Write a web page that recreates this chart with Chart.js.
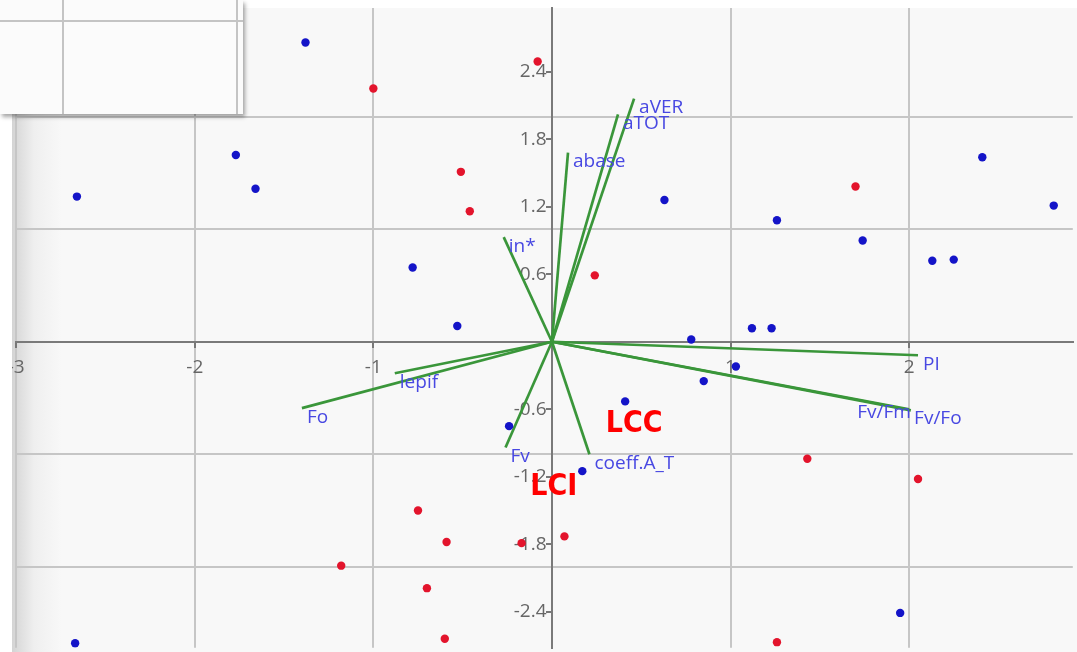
<!DOCTYPE html>
<html>
<head>
<meta charset="utf-8">
<script src="https://cdn.jsdelivr.net/npm/chart.js@4.4.1/dist/chart.umd.min.js"></script>
<style>
    body { margin: 0; background: #fff; width: 1077px; height: 652px; overflow: hidden; position: relative; }
    #zona {
        position: absolute; left: 12px; top: 0; width: 1065px; height: 652px;
        background:
            linear-gradient(to bottom, #fff 0, #fff 8px, transparent 8px),
            linear-gradient(to right, #d4d4d4 0, #efefef 22px, #f8f8f8 50px, #f8f8f8 100%);
    }
    #panel {
        position: absolute; left: 0; top: 0; width: 243px; height: 114px;
        background: #fbfbfb; box-shadow: 2px 3px 4px rgba(0,0,0,0.35); z-index: 5;
    }
    #panel .v { position: absolute; top: 0; bottom: 0; width: 2px; background: #c4c4c4; }
    #panel .h { position: absolute; left: 0; right: 0; height: 2px; background: #c4c4c4; }
</style>
</head>
<body>
<div id="zona"><canvas id="biplot" width="1065" height="652"></canvas></div>
<div id="panel">
    <div class="v" style="left:62px"></div>
    <div class="v" style="left:236px"></div>
    <div class="h" style="top:20px"></div>
</div>
<script>
// individuos (scores) del grupo azul
const azulX = [-1.38, -1.77, -1.66, -2.66, -0.78, -0.53, 0.63, 1.26, 2.41, 2.81, 1.74, 2.13, 2.25,
    1.12, 1.23, 0.78, 0.85, 1.03, 0.41, -0.24, 0.17, 1.95, -2.67];
const azulY = [2.66, 1.66, 1.36, 1.29, 0.66, 0.14, 1.26, 1.08, 1.64, 1.21, 0.90, 0.72, 0.73,
    0.12, 0.12, 0.02, -0.35, -0.22, -0.53, -0.75, -1.15, -2.41, -2.68];

// individuos del grupo rojo
const rojoX = [-0.08, -1.00, -0.51, -0.46, 1.70, 0.24, 1.43, 2.05, 1.26, -0.75, -0.59, -0.17,
    0.07, -0.70, -0.60, -1.18];
const rojoY = [2.49, 2.25, 1.51, 1.16, 1.38, 0.59, -1.04, -1.22, -2.67, -1.50, -1.78, -1.79,
    -1.73, -2.19, -2.64, -1.99];

// variables (vectores de carga)
const variables = ['aVER', 'aTOT', 'abase', 'in*', 'lepif', 'Fo', 'Fv', 'coeff.A_T', 'PI', 'Fv/Fm', 'Fv/Fo'];
const varX = [0.46, 0.37, 0.09, -0.27, -0.88, -1.40, -0.26, 0.21, 2.05, 2.01, 2.00];
const varY = [2.16, 2.02, 1.68, 0.93, -0.28, -0.59, -0.94, -1.00, -0.12, -0.61, -0.60];

// grupos
const grupos = ['LCC', 'LCI'];
const grupoX = [0.46, 0.01];
const grupoY = [-0.80, -1.36];

// marcas de los ejes
const ticksX = [-3, -2, -1, 0, 1, 2];
const ticksY = [-2.4, -1.8, -1.2, -0.6, 0.6, 1.2, 1.8, 2.4];
const lineasY = [-2, -1, 0, 1, 2];

const fuenteEje = { family: '"Open Sans", "Noto Sans", sans-serif', size: 19 };
const gris = '#c6c6c6';
const ejeColor = '#7a7a7a';
const yMin = -2.72, yMax = 2.966;

const sinEspacio = s => {
    s.width = s.isHorizontal() ? s.width : 0;
    s.height = s.isHorizontal() ? 0 : s.height;
    s.paddingLeft = s.paddingRight = s.paddingTop = s.paddingBottom = 0;
};

const datasets = [];
variables.forEach((nombre, i) => {
    datasets.push({
        label: nombre,
        data: [{ x: 0, y: 0 }, { x: varX[i], y: varY[i] }],
        showLine: true,
        borderColor: '#3a963a',
        borderWidth: 2.7,
        pointRadius: 0,
        order: 2
    });
});
datasets.push({
    label: 'azul',
    data: azulX.map((x, i) => ({ x: x, y: azulY[i] })),
    backgroundColor: '#1414c8',
    borderWidth: 0,
    pointRadius: 4.2,
    order: 0
});
datasets.push({
    label: 'rojo',
    data: rojoX.map((x, i) => ({ x: x, y: rojoY[i] })),
    backgroundColor: '#e3142c',
    borderWidth: 0,
    pointRadius: 4.2,
    order: 0
});

const etiquetas = {
    id: 'etiquetas',
    afterDatasetsDraw(chart) {
        const ctx = chart.ctx;
        ctx.save();
        ctx.font = '19px "Open Sans", "Noto Sans", sans-serif';
        ctx.fillStyle = '#4848e2';
        ctx.textBaseline = 'middle';
        variables.forEach((nombre, i) => {
            const p = chart.getDatasetMeta(i).data[1];
            if (nombre === 'Fv/Fm') {
                ctx.textAlign = 'right';
                ctx.fillText(nombre, p.x, p.y + 2);
            } else {
                ctx.textAlign = 'left';
                ctx.fillText(nombre, p.x + 5, p.y + 9);
            }
        });
        ctx.font = 'bold 30px "DejaVu Sans Condensed", "Liberation Sans", sans-serif';
        ctx.fillStyle = '#ff0000';
        ctx.textAlign = 'center';
        ctx.textBaseline = 'alphabetic';
        grupos.forEach((g, i) => {
            ctx.fillText(g, chart.scales.x.getPixelForValue(grupoX[i]), chart.scales.y.getPixelForValue(grupoY[i]));
        });
        ctx.restore();
    }
};

new Chart(document.getElementById('biplot'), {
    type: 'scatter',
    data: { datasets: datasets },
    options: {
        responsive: false,
        animation: false,
        layout: { padding: { top: 8, left: 0, right: 0, bottom: 0 } },
        plugins: { legend: { display: false }, tooltip: { enabled: false } },
        scales: {
            x: {
                type: 'linear',
                min: -3,
                max: 2.9167,
                position: { y: 0 },
                afterFit: sinEspacio,
                afterBuildTicks: s => { s.ticks = ticksX.map(v => ({ value: v })); },
                ticks: {
                    autoSkip: false,
                    maxRotation: 0,
                    padding: 9,
                    color: '#666',
                    font: fuenteEje,
                    callback: v => (v === 0 ? '' : String(v))
                },
                grid: { color: gris, lineWidth: 2, tickLength: 5, tickColor: '#777' },
                border: { color: ejeColor, width: 2 }
            },
            y: {
                type: 'linear',
                min: yMin,
                max: yMax,
                position: 'left',
                afterFit: sinEspacio,
                afterBuildTicks: s => { s.ticks = lineasY.map(v => ({ value: v })); },
                ticks: { display: false },
                grid: { color: gris, lineWidth: 2, drawTicks: false },
                border: { display: false }
            },
            yMarcas: {
                type: 'linear',
                axis: 'y',
                min: yMin,
                max: yMax,
                position: { x: 0 },
                afterFit: sinEspacio,
                afterBuildTicks: s => { s.ticks = ticksY.map(v => ({ value: v })); },
                ticks: { display: false },
                grid: { drawOnChartArea: false, tickLength: 5, tickColor: '#777', lineWidth: 2 },
                border: { color: ejeColor, width: 2 }
            },
            yEje: {
                type: 'linear',
                axis: 'y',
                min: yMin,
                max: yMax,
                position: { x: -0.03 },
                afterFit: sinEspacio,
                afterBuildTicks: s => { s.ticks = ticksY.map(v => ({ value: v })); },
                ticks: {
                    autoSkip: false,
                    padding: 0,
                    color: '#666',
                    font: fuenteEje,
                    callback: v => String(v)
                },
                grid: { display: false, drawTicks: false },
                border: { display: false }
            }
        }
    },
    plugins: [etiquetas]
});
</script>
</body>
</html>
